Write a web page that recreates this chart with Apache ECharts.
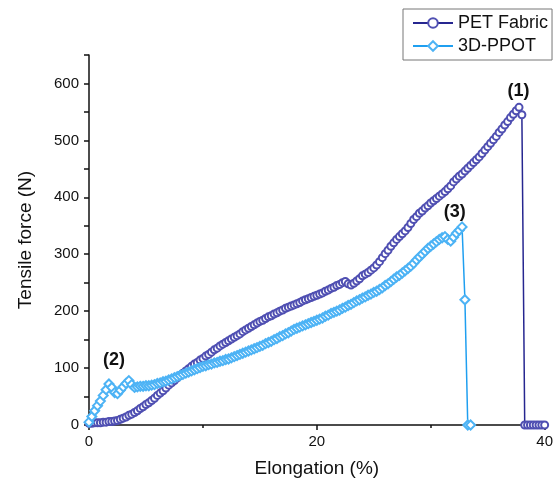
<!DOCTYPE html>
<html>
<head>
<meta charset="utf-8">
<script src="https://cdn.jsdelivr.net/npm/echarts@6/dist/echarts.min.js"></script>
<style>html,body{margin:0;padding:0;background:#fff}#c{width:556px;height:483px}</style>
</head>
<body>
<div id="c"></div>
<script>
const elongation = [
  0,0.25,0.5,0.75,1,1.25,1.5,1.75,
  2,2.25,2.5,2.75,3,3.25,3.5,3.75,
  4,4.25,4.5,4.75,5,5.25,5.5,5.75,
  6,6.25,6.5,6.75,7,7.25,7.5,7.75,
  8,8.25,8.5,8.75,9,9.25,9.5,9.75,
  10,10.25,10.5,10.75,11,11.25,11.5,11.75,
  12,12.25,12.5,12.75,13,13.25,13.5,13.75,
  14,14.25,14.5,14.75,15,15.25,15.5,15.75,
  16,16.25,16.5,16.75,17,17.25,17.5,17.75,
  18,18.25,18.5,18.75,19,19.25,19.5,19.75,
  20,20.25,20.5,20.75,21,21.25,21.5,21.75,
  22,22.25,22.5,22.75,23,23.25,23.5,23.75,
  24,24.25,24.5,24.75,25,25.25,25.5,25.75,
  26,26.25,26.5,26.75,27,27.25,27.5,27.75,
  28,28.25,28.5,28.75,29,29.25,29.5,29.75,
  30,30.25,30.5,30.75,31,31.25,31.5,31.75,
  32,32.25,32.5,32.75,33,33.25,33.5,33.75,
  34,34.25,34.5,34.75,35,35.25,35.5,35.75,
  36,36.25,36.5,36.75,37,37.25,37.5,37.75,
  38,38.25,38.5,38.75,39,39.25,39.5,39.75,
  40
];
const petForce = [
  3,3,4,4,4,5,5,6,
  6,7,8,10,12,14,17,19,
  22,25,29,32,36,39,43,47,
  52,56,60,65,70,74,78,83,
  87,91,95,99,103,107,110,114,
  117,121,124,128,132,135,139,142,
  145,148,151,154,157,160,164,167,
  170,173,176,179,182,184,187,190,
  192,195,197,200,202,205,207,209,
  211,213,215,218,220,222,224,226,
  228,230,232,235,237,240,242,245,
  247,250,252,248,246,249,253,257,
  262,265,268,272,276,281,287,294,
  301,307,314,320,326,331,336,341,
  347,354,361,366,372,376,381,385,
  390,394,398,402,406,410,415,420,
  427,432,437,441,446,451,456,461,
  466,471,477,483,489,495,501,507,
  514,520,527,533,540,546,552,558,
  545,0,0,0,0,0,0,0,
  0
];
const ppotForce = [
  5,15,25,34,42,52,62,72,
  66,57,55,61,67,73,78,71,
  66,67,68,68,69,69,70,71,
  73,74,76,77,79,81,83,85,
  87,89,91,93,95,97,99,101,
  103,104,106,107,109,110,112,113,
  115,116,118,120,122,124,126,128,
  130,132,134,136,138,140,143,145,
  147,150,152,155,157,160,162,165,
  168,170,172,174,176,178,180,182,
  184,186,188,191,193,196,198,200,
  202,205,207,210,212,215,218,220,
  223,225,228,230,233,235,238,241,
  245,248,252,256,260,263,267,271,
  275,279,284,290,295,300,305,310,
  314,318,322,326,329,331,326,323,
  330,337,342,348,220,0,0
];
const seriesNames = ['PET Fabric', '3D-PPOT'];
const annotations = [
  { text: '(1)', x: 37.7, y: 586 },
  { text: '(3)', x: 32.1, y: 375 },
  { text: '(2)', x: 2.2, y: 114 }
];

const FONT = 'Liberation Sans, Arial, sans-serif';
const PET_LINE = '#262690';
const PET_MARK = '#4f4fb2';
const PPOT_LINE = '#1f9ff0';
const PPOT_MARK = '#4db3f5';

const chart = echarts.init(document.getElementById('c'), null, { renderer: 'canvas' });
chart.setOption({
  animation: false,
  backgroundColor: '#fff',
  textStyle: { fontFamily: FONT },
  grid: { left: 89, right: 11, top: 55, bottom: 58, containLabel: false },
  legend: {
    orient: 'vertical',
    left: 403, top: 9,
    padding: [5, 4, 5, 9],
    itemWidth: 40, itemHeight: 12, itemGap: 5,
    borderColor: '#777', borderWidth: 1,
    textStyle: { fontSize: 18, color: '#111', fontFamily: FONT },
    data: seriesNames
  },
  xAxis: {
    type: 'value', min: 0, max: 40, interval: 20,
    name: 'Elongation (%)', nameLocation: 'middle', nameGap: 34,
    nameTextStyle: { fontSize: 19, color: '#111', fontFamily: FONT },
    axisLine: { lineStyle: { color: '#111', width: 1.5 } },
    axisTick: { show: true, length: 5, lineStyle: { color: '#111', width: 1.5 } },
    minorTick: { show: true, splitNumber: 2, length: 3, lineStyle: { color: '#111', width: 1.5 } },
    axisLabel: { fontSize: 15, color: '#111', margin: 9, fontFamily: FONT },
    splitLine: { show: false }
  },
  yAxis: {
    type: 'value', min: 0, max: 650, interval: 50,
    name: 'Tensile force (N)', nameLocation: 'middle', nameGap: 54, nameRotate: 90,
    nameTextStyle: { fontSize: 19, color: '#111', fontFamily: FONT },
    axisLine: { show: true, lineStyle: { color: '#111', width: 1.5 } },
    axisTick: { show: true, length: 5, lineStyle: { color: '#111', width: 1.5 } },
    axisLabel: {
      fontSize: 15, color: '#111', margin: 10, fontFamily: FONT,
      formatter: v => (v % 100 === 0 ? String(v) : '')
    },
    splitLine: { show: false }
  },
  series: [
    {
      name: seriesNames[0], type: 'line',
      data: petForce.map((v, i) => [elongation[i], v]),
      symbol: 'emptyCircle', symbolSize: 7, showAllSymbol: true,
      lineStyle: { color: PET_LINE, width: 1.5 },
      itemStyle: { color: PET_MARK, borderColor: PET_MARK, borderWidth: 1 },
      markPoint: {
        symbolSize: 0,
        label: { show: true, position: 'inside', fontSize: 18, fontWeight: 'bold', color: '#111', fontFamily: FONT, formatter: p => p.name },
        data: annotations.map(a => ({ name: a.text, coord: [a.x, a.y] }))
      }
    },
    {
      name: seriesNames[1], type: 'line',
      data: ppotForce.map((v, i) => [elongation[i], v]),
      symbol: 'emptyDiamond', symbolSize: 9, showAllSymbol: true,
      lineStyle: { color: PPOT_LINE, width: 1.5 },
      itemStyle: { color: PPOT_MARK, borderColor: PPOT_MARK, borderWidth: 1 }
    }
  ]
});
</script>
</body>
</html>
